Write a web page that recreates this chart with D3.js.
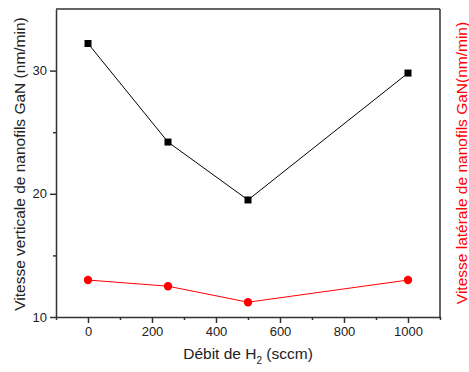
<!DOCTYPE html>
<html><head><meta charset="utf-8">
<script src="https://cdn.jsdelivr.net/npm/d3@7"></script>
<style>body{margin:0;background:#fff}svg{display:block}text{font-family:"Liberation Sans",Arial,sans-serif}</style>
</head><body><svg id="c" width="469" height="372"></svg>
<script>
const flow = [0, 250, 500, 1000];
const vertical = [32.2, 24.2, 19.5, 29.8];
const lateral = [13.0, 12.5, 11.2, 13.0];
const xTicks = [0, 200, 400, 600, 800, 1000];
const yTicks = [10, 20, 30];

const svg = d3.select("#c");
const L = 56, R = 440, T = 9, B = 317;
const x = d3.scaleLinear().domain([-100, 1100]).range([L, R]);
const y = d3.scaleLinear().domain([10, 35]).range([B, T]);
const frame = "#333";

// x axis
svg.append("g").attr("transform", `translate(0,${B})`)
  .call(d3.axisBottom(x).tickValues(xTicks).tickSize(6).tickSizeOuter(0).tickPadding(4).tickFormat(d3.format("d")));
svg.append("g").attr("transform", `translate(0,${B})`)
  .call(d3.axisBottom(x).tickValues(d3.range(-100, 1101, 100).filter(v => !xTicks.includes(v))).tickSize(3).tickSizeOuter(0).tickFormat(""))
  .call(g => g.select(".domain").remove());
// y axis
svg.append("g").attr("transform", `translate(${L},0)`)
  .call(d3.axisLeft(y).tickValues(yTicks).tickSize(6).tickSizeOuter(0).tickPadding(3));
svg.append("g").attr("transform", `translate(${L},0)`)
  .call(d3.axisLeft(y).tickValues([15, 25]).tickSize(3).tickSizeOuter(0).tickFormat(""))
  .call(g => g.select(".domain").remove());

svg.selectAll(".domain, .tick line").attr("stroke", frame).attr("stroke-width", 1.5);
svg.selectAll(".tick text").attr("fill", "#222").style("font-size", "13px").style("font-family", "Liberation Sans, Arial, sans-serif");

// top and right frame
svg.append("line").attr("x1", L).attr("x2", R).attr("y1", T).attr("y2", T).attr("stroke", frame).attr("stroke-width", 1.5);
svg.append("line").attr("x1", R).attr("x2", R).attr("y1", T).attr("y2", B).attr("stroke", frame).attr("stroke-width", 1.5);

// lines
const line = (vals) => d3.line().x((d, i) => x(flow[i])).y(d => y(d))(vals);
svg.append("path").attr("d", line(vertical)).attr("fill", "none").attr("stroke", "#000").attr("stroke-width", 1);
svg.append("path").attr("d", line(lateral)).attr("fill", "none").attr("stroke", "#ff0000").attr("stroke-width", 1);
svg.selectAll(".sq").data(vertical).join("rect")
  .attr("x", (d, i) => x(flow[i]) - 3.5).attr("y", d => y(d) - 3.5).attr("width", 7).attr("height", 7).attr("fill", "#000");
svg.selectAll(".ci").data(lateral).join("circle")
  .attr("cx", (d, i) => x(flow[i])).attr("cy", d => y(d)).attr("r", 4.2).attr("fill", "#ff0000");

// titles
const xt = svg.append("text").attr("x", (L + R) / 2).attr("y", 359).attr("text-anchor", "middle")
  .attr("fill", "#222").style("font-size", "15.5px");
xt.append("tspan").text("Débit de H");
xt.append("tspan").text("2").style("font-size", "10px").attr("dy", 5);
xt.append("tspan").text(" (sccm)").attr("dy", -5);

svg.append("text").attr("transform", `translate(25,${(T + B) / 2 + 1}) rotate(-90)`).attr("text-anchor", "middle")
  .attr("fill", "#222").style("font-size", "15.5px").text("Vitesse verticale de nanofils GaN (nm/min)");
svg.append("text").attr("transform", `translate(467,${(T + B) / 2}) rotate(-90)`).attr("text-anchor", "middle")
  .attr("fill", "#ff0000").style("font-size", "15.5px").text("Vitesse latérale de nanofils GaN(nm/min)");
</script></body></html>
